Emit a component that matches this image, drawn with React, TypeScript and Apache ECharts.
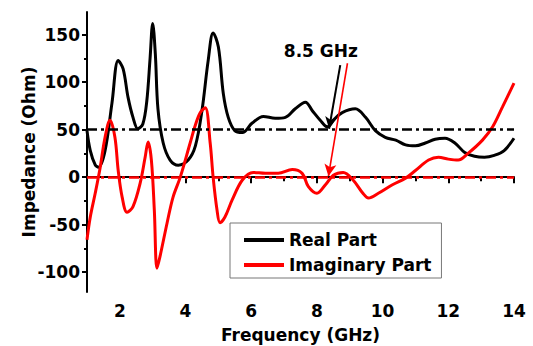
import React, { useEffect, useRef } from "react";
import * as echarts from "echarts";

// Frequency sweep (GHz) and real part of the input impedance (Ohm)
const realFreq = [
  1.0, 1.1, 1.25, 1.35, 1.55, 1.76, 1.95, 2.1, 2.25, 2.4, 2.55, 2.7, 2.82, 2.92,
  3.0, 3.08, 3.16, 3.32, 3.53, 3.78, 4.08, 4.3, 4.5, 4.69, 4.84, 5.0, 5.15, 5.3,
  5.5, 5.73, 6.03, 6.37, 6.73, 7.04, 7.34, 7.65, 7.86, 8.1, 8.32, 8.5, 8.77,
  9.17, 9.48, 9.78, 10.08, 10.4, 10.7, 11.0, 11.3, 11.6, 11.9, 12.2, 12.5, 12.8,
  13.1, 13.4, 13.7, 14.0,
];
const realOhm = [
  49, 28, 13, 10.5, 28, 78, 123, 114, 84, 63, 51, 56, 80, 125,
  162, 130, 72, 36, 18, 12.6, 18, 33, 70, 123, 152, 137, 88, 63,
  49, 47, 57, 64, 62, 63, 72, 79, 70, 60, 53, 60, 68,
  72, 63, 49, 42, 39, 34, 33, 36, 40, 41, 36, 26, 22,
  21, 23, 28, 41,
];

// Imaginary part of the input impedance (Ohm)
const imagFreq = [
  1.0, 1.1, 1.25, 1.4, 1.55, 1.7, 1.85, 1.95, 2.07, 2.22, 2.4, 2.62, 2.77, 2.86,
  2.96, 3.05, 3.13, 3.22, 3.44, 3.62, 3.84, 4.14, 4.3, 4.45, 4.6, 4.75, 4.84,
  4.96, 5.05, 5.2, 5.42, 5.73, 6.06, 6.43, 6.82, 7.25, 7.55, 7.74, 8.0, 8.26,
  8.5, 8.8, 9.1, 9.4, 9.57, 9.87, 10.3, 10.7, 11.0, 11.4, 11.7, 12.0, 12.3,
  12.6, 13.04, 13.35, 13.65, 14.0,
];
const imagOhm = [
  -66, -42, -17, 10, 42, 60, 42, 7, -21, -37, -31, -6, 21, 37,
  18, -35, -96, -84, -48, -21, 0, 36, 55, 68, 73, 36, 0,
  -35, -48, -42, -24, -3, 5, 4, 4, 8, 4, -10, -17, -8,
  2, 5, -3, -17, -22, -17, -8, -1, 7, 18, 21, 19, 18,
  25, 39, 53, 74, 99,
];

// Reference levels (50 Ohm match, zero reactance)
const realRefLevel = 50;
const imagRefLevel = 0;

// Axis ticks
const xMajorTicks = [2, 4, 6, 8, 10, 12, 14];
const xMinorTicks = [1, 3, 5, 7, 9, 11, 13];
const yMajorTicks = [-100, -50, 0, 50, 100, 150];
const yMinorTicks = [-75, -25, 25, 75, 125];

// 8.5 GHz marker: label anchor and arrows (GHz, Ohm)
const markerText = "8.5 GHz";
const markerTextAt = [8.12, 133];
const realArrow = [
  [8.71, 118],
  [8.37, 51],
];
const imagArrow = [
  [8.93, 120],
  [8.35, 1],
];

const FONT = "DejaVu Sans";

export default function App() {
  const ref = useRef<HTMLDivElement>(null);

  useEffect(() => {
    if (!ref.current) return;
    const chart = echarts.init(ref.current, undefined, { renderer: "svg" });

    const real = realFreq.map((f, i) => [f, realOhm[i]]);
    const imag = imagFreq.map((f, i) => [f, imagOhm[i]]);

    const dashDot = [10, 4, 3, 4];
    const labelStyle = {
      fontFamily: FONT,
      fontWeight: "bold" as const,
      fontSize: 17,
      color: "#000",
    };

    chart.setOption({
      animation: false,
      backgroundColor: "#fff",
      grid: {
        left: 87,
        right: 19,
        top: 12,
        bottom: 54,
        containLabel: false,
        outerBoundsMode: "none",
      },
      legend: {
        orient: "vertical",
        left: 230,
        top: 223,
        backgroundColor: "#fff",
        borderColor: "#777",
        borderWidth: 1,
        padding: [7, 10, 3, 14],
        itemGap: 5,
        itemWidth: 40,
        itemHeight: 4,
        icon: "rect",
        textStyle: { ...labelStyle, lineHeight: 20 },
        data: ["Real Part", "Imaginary Part"],
      },
      xAxis: [
        {
          type: "value",
          min: 1,
          max: 14,
          name: "Frequency (GHz)",
          nameLocation: "middle",
          nameGap: 34,
          nameMoveOverlap: false,
          nameTextStyle: { ...labelStyle, lineHeight: 17 },
          axisLine: { lineStyle: { color: "#000", width: 2 } },
          axisTick: {
            customValues: xMajorTicks,
            length: 6,
            lineStyle: { color: "#000", width: 2 },
          },
          axisLabel: { customValues: xMajorTicks, margin: 10, ...labelStyle },
          splitLine: { show: false },
        },
        {
          type: "value",
          position: "bottom",
          min: 1,
          max: 14,
          axisLine: { show: false },
          axisTick: {
            customValues: xMinorTicks,
            length: 4,
            lineStyle: { color: "#000", width: 2 },
          },
          axisLabel: { show: false },
          splitLine: { show: false },
        },
      ],
      yAxis: [
        {
          type: "value",
          min: -121,
          max: 174,
          name: "Impedance (Ohm)",
          nameLocation: "middle",
          nameGap: 50,
          nameMoveOverlap: false,
          nameTextStyle: { ...labelStyle },
          axisLine: { show: true, lineStyle: { color: "#000", width: 2 } },
          axisTick: {
            show: true,
            customValues: yMajorTicks,
            length: 5,
            lineStyle: { color: "#000", width: 2 },
          },
          axisLabel: { customValues: yMajorTicks, margin: 7, ...labelStyle },
          splitLine: { show: false },
        },
        {
          type: "value",
          position: "left",
          min: -121,
          max: 174,
          axisLine: { show: false },
          axisTick: {
            show: true,
            customValues: yMinorTicks,
            length: 3,
            lineStyle: { color: "#000", width: 2 },
          },
          axisLabel: { show: false },
          splitLine: { show: false },
        },
      ],
      series: [
        {
          name: "Real Part",
          type: "line",
          data: real,
          smooth: 0.35,
          showSymbol: false,
          symbol: "none",
          color: "#000",
          lineStyle: { color: "#000", width: 3 },
          markLine: {
            silent: true,
            symbol: "none",
            label: { show: false },
            lineStyle: { color: "#000", width: 2.5, type: dashDot },
            data: [{ yAxis: realRefLevel }],
          },
          markPoint: {
            silent: true,
            symbol: "circle",
            symbolSize: 0,
            label: {
              show: true,
              position: "inside",
              formatter: markerText,
              ...labelStyle,
            },
            data: [{ coord: markerTextAt }],
          },
        },
        {
          name: "Imaginary Part",
          type: "line",
          data: imag,
          smooth: 0.35,
          showSymbol: false,
          symbol: "none",
          color: "#ff0000",
          lineStyle: { color: "#ff0000", width: 3 },
          markLine: {
            silent: true,
            symbol: "none",
            label: { show: false },
            lineStyle: { color: "#ff0000", width: 2.5, type: dashDot },
            data: [{ yAxis: imagRefLevel }],
          },
        },
        {
          // arrows pointing at the 8.5 GHz matching point
          name: "marker",
          type: "line",
          data: [],
          markLine: {
            silent: true,
            symbol: ["none", "arrow"],
            symbolSize: [9, 12],
            label: { show: false },
            data: [
              [
                { coord: realArrow[0], lineStyle: { color: "#000", width: 2, type: "solid" } },
                { coord: realArrow[1] },
              ],
              [
                { coord: imagArrow[0], lineStyle: { color: "#ff0000", width: 1.6, type: "solid" } },
                { coord: imagArrow[1] },
              ],
            ],
          },
        },
      ],
    });

    return () => chart.dispose();
  }, []);

  return (
    <div
      ref={ref}
      style={{ position: "fixed", left: 0, top: 0, width: 533, height: 346 }}
    />
  );
}
